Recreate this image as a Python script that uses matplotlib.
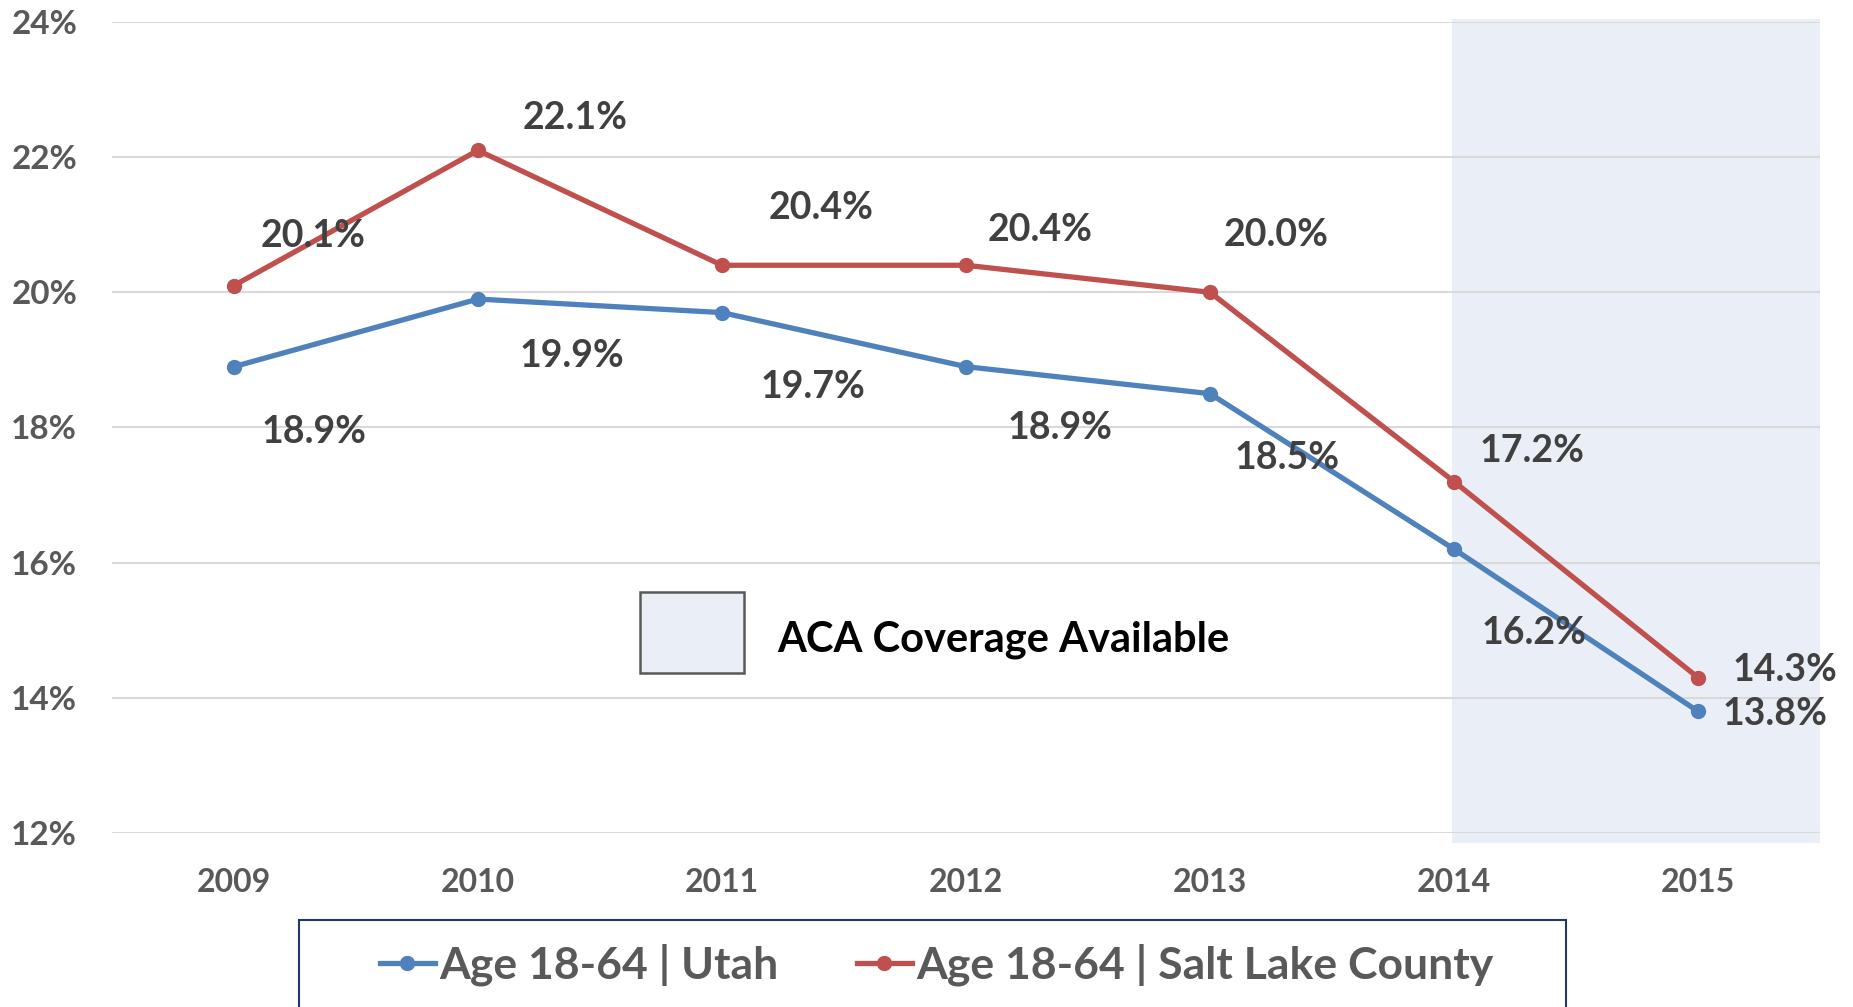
import matplotlib.pyplot as plt
from matplotlib.lines import Line2D
from matplotlib.patches import Rectangle

plt.rcParams['font.family'] = ['Lato', 'DejaVu Sans']

years = ['2009', '2010', '2011', '2012', '2013', '2014', '2015']
utah = [18.9, 19.9, 19.7, 18.9, 18.5, 16.2, 13.8]
slco = [20.1, 22.1, 20.4, 20.4, 20.0, 17.2, 14.3]
yticks = [12, 14, 16, 18, 20, 22, 24]

# label offsets in pixels (dx, dy) from each point
off_utah = [(80, -65), (94, -57), (91, -74), (94, -61), (77, -64), (80, -84), (77, -3)]
off_slco = [(79, 50), (97, 32), (99, 57), (74, 35), (66, 57), (78, 31), (87, 8)]

blue = '#4F81BD'
red = '#C0504D'
shade = '#EAEFF7'

fig = plt.figure(figsize=(18.53, 10.07), dpi=100)
ax = fig.add_axes([0.0604, 0.1728, 0.9218, 0.8054])

x = list(range(len(years)))

# ACA shaded region (2014 onwards)
ax.add_patch(Rectangle((4.99, 11.85), 1.51, 12.2, facecolor=shade,
                       edgecolor='none', zorder=0, clip_on=False))

ax.plot(x, utah, color=blue, lw=3.8, marker='o', ms=10, zorder=3)
ax.plot(x, slco, color=red, lw=3.8, marker='o', ms=10, zorder=3)

for i in x:
    ax.annotate(f'{utah[i]:.1f}%', (i, utah[i]), xytext=off_utah[i],
                textcoords='offset pixels', ha='center', va='center',
                fontsize=27, fontweight='bold', color='#404040', zorder=4)
    ax.annotate(f'{slco[i]:.1f}%', (i, slco[i]), xytext=off_slco[i],
                textcoords='offset pixels', ha='center', va='center',
                fontsize=27, fontweight='bold', color='#404040', zorder=4)

ax.set_xlim(-0.5, 6.5)
ax.set_ylim(12, 24)
ax.set_xticks(x)
ax.set_xticklabels(years)
ax.set_yticks(yticks)
ax.set_yticklabels([f'{t}%' for t in yticks])
ax.grid(axis='y', color='#D9D9D9', lw=1.5, zorder=1)
ax.set_axisbelow(True)
for s in ax.spines.values():
    s.set_visible(False)
ax.tick_params(length=0, labelcolor='#595959')
ax.tick_params(axis='y', pad=25, labelsize=24)
ax.tick_params(axis='x', pad=25, labelsize=23)
for lab in ax.get_xticklabels() + ax.get_yticklabels():
    lab.set_fontweight('bold')

# ACA legend box inside plot
ax.add_patch(Rectangle((0.3091, 0.1973), 0.0609, 0.0999, transform=ax.transAxes,
                       facecolor=shade, edgecolor='#595959', lw=1.8, zorder=2))
ax.text(0.3893, 0.2232, 'ACA Coverage Available', transform=ax.transAxes,
        ha='left', va='baseline', fontsize=30, fontweight='bold', color='black')

# bottom legend
fig.patches.append(Rectangle((299 / 1853, -0.02), (1566 - 299) / 1853, (1007 - 920) / 1007 + 0.02,
                             transform=fig.transFigure, facecolor='white',
                             edgecolor='#1F3864', lw=1.5))
handles = [Line2D([], [], color=blue, lw=3.8, marker='o', ms=10),
           Line2D([], [], color=red, lw=3.8, marker='o', ms=10)]
leg = fig.legend(handles, ['Age 18-64 | Utah', 'Age 18-64 | Salt Lake County'],
                 loc='center', bbox_to_anchor=(0.5055, 1 - 965 / 1007), ncol=2,
                 frameon=False, fontsize=32, handlelength=1.25, handletextpad=0.1,
                 columnspacing=1.75)
for t in leg.get_texts():
    t.set_color('#595959')
    t.set_fontweight('bold')

fig.savefig('out.png', dpi=100)
